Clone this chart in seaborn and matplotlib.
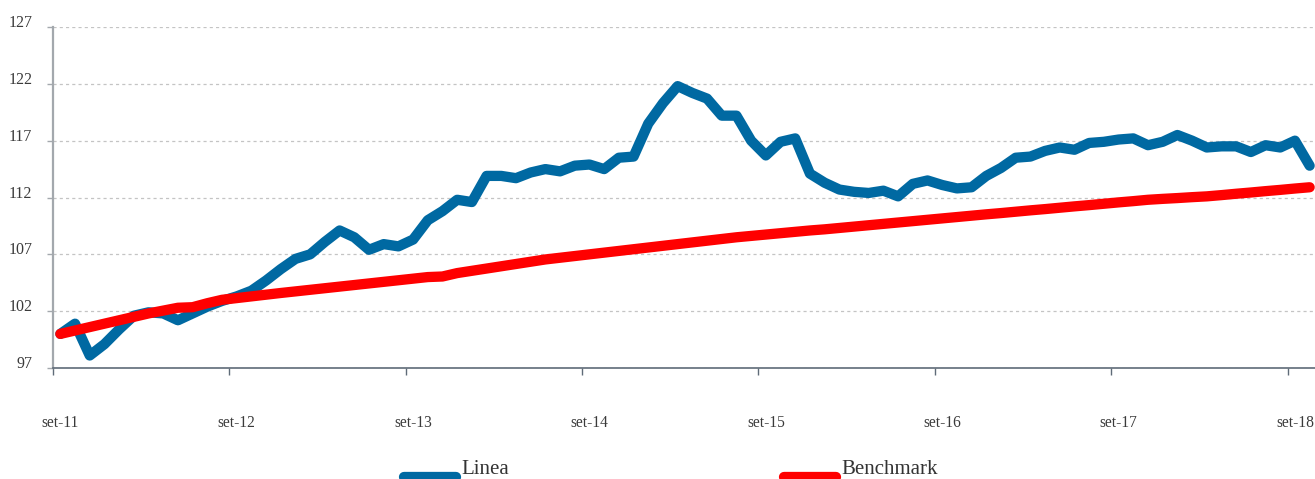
import numpy as np
import pandas as pd
import matplotlib
matplotlib.use("Agg")
import matplotlib.pyplot as plt
import seaborn as sns
from matplotlib.lines import Line2D
from matplotlib.legend_handler import HandlerLine2D

# ---- data (monthly, set-11 .. ott-18) ----
tick_labels = ["set-11", "set-12", "set-13", "set-14", "set-15", "set-16", "set-17", "set-18"]
series_names = ["Linea", "Benchmark"]

linea = [100.0, 100.9, 98.1, 99.1, 100.4, 101.6, 101.9, 101.8, 101.2, 101.8,
         102.4, 102.9, 103.3, 103.8, 104.7, 105.7, 106.6, 107.0, 108.1, 109.1,
         108.5, 107.4, 107.9, 107.7, 108.3, 110.0, 110.8, 111.8, 111.6, 113.9,
         113.9, 113.7, 114.2, 114.5, 114.3, 114.8, 114.9, 114.5, 115.5, 115.6,
         118.5, 120.3, 121.8, 121.2, 120.7, 119.2, 119.2, 117.0, 115.7, 116.9,
         117.2, 114.1, 113.3, 112.7, 112.5, 112.4, 112.6, 112.1, 113.2, 113.5,
         113.1, 112.8, 112.9, 113.9, 114.6, 115.5, 115.6, 116.1, 116.4, 116.2,
         116.8, 116.9, 117.1, 117.2, 116.6, 116.9, 117.5, 117.0, 116.4, 116.5,
         116.5, 116.0, 116.6, 116.4, 117.0, 114.8]

benchmark = [100.0, 100.3, 100.6, 100.9, 101.2, 101.5, 101.8, 102.05, 102.3, 102.35,
             102.7, 103.0, 103.15, 103.3, 103.45, 103.6, 103.74, 103.88, 104.02, 104.16,
             104.3, 104.44, 104.58, 104.72, 104.86, 105.0, 105.05, 105.35, 105.55, 105.75,
             105.95, 106.15, 106.35, 106.55, 106.7, 106.85, 107.0, 107.15, 107.3, 107.45,
             107.6, 107.75, 107.9, 108.05, 108.2, 108.35, 108.5, 108.62, 108.74, 108.86,
             108.98, 109.1, 109.2, 109.32, 109.44, 109.56, 109.68, 109.8, 109.92, 110.04,
             110.16, 110.28, 110.4, 110.52, 110.63, 110.75, 110.87, 110.98, 111.1, 111.22,
             111.33, 111.45, 111.57, 111.68, 111.8, 111.88, 111.95, 112.03, 112.1, 112.21,
             112.33, 112.44, 112.56, 112.67, 112.79, 112.9]

y_ticks = [97, 102, 107, 112, 117, 122, 127]

colors = {"Linea": "#0069a2", "Benchmark": "#ff0000"}

sns.set_theme(style="white")
plt.rcParams['font.family'] = ['Liberation Serif', 'DejaVu Serif']

W, H = 1315, 479
fig = plt.figure(figsize=(W / 100, H / 100), dpi=100)
ax = fig.add_axes([53 / W, 1 - 368 / H, 1264 / W, (368 - 27) / H])

n = len(linea)
df = pd.DataFrame({
    "t": list(range(n)) * 2,
    "value": linea + benchmark,
    "serie": [series_names[0]] * n + [series_names[1]] * n,
})

sns.lineplot(data=df, x="t", y="value", hue="serie", hue_order=series_names,
             palette=colors, linewidth=7.4, legend=False, ax=ax,
             solid_capstyle="round", solid_joinstyle="round")

ax.set_xlim(-0.5, n - 0.5)
ax.set_ylim(97, 127)
ax.set_xlabel("")
ax.set_ylabel("")

# y axis
ax.set_yticks(y_ticks)
ax.set_yticklabels([str(v) for v in y_ticks])
ax.tick_params(axis="y", left=True, length=4, width=1, color="#a3a8ad",
               pad=11, labelsize=11.5, labelcolor="#3a3a3a")
for lab in ax.get_yticklabels():
    lab.set_va("baseline")

# x axis: tick marks at year boundaries, labels at the september points
ax.set_xticks([-0.5 + 12 * k for k in range(len(tick_labels))])
ax.set_xticklabels([""] * len(tick_labels))
ax.set_xticks([12 * k for k in range(len(tick_labels))], minor=True)
ax.set_xticklabels(tick_labels, minor=True)
ax.tick_params(axis="x", which="major", bottom=True, length=5, width=1,
               color="#5f6b78", direction="out")
ax.tick_params(axis="x", which="minor", bottom=True, length=0, pad=34,
               labelsize=11.2, labelcolor="#3a3a3a")

# grid & spines
ax.set_axisbelow(True)
ax.yaxis.grid(True, linestyle=(0, (2.5, 2.5)), color="#c4c4c4", linewidth=0.9)
ax.xaxis.grid(False)
for s in ["top", "right"]:
    ax.spines[s].set_visible(False)
ax.spines["left"].set_color("#a3a8ad")
ax.spines["left"].set_linewidth(1.6)
ax.spines["bottom"].set_color("#5f6b78")
ax.spines["bottom"].set_linewidth(1.2)


# legend: handle sits lower than the label, as in the reference
class LowHandle(HandlerLine2D):
    def create_artists(self, legend, orig_handle, xdescent, ydescent,
                       width, height, fontsize, trans):
        arts = super().create_artists(legend, orig_handle, xdescent, ydescent,
                                      width, height, fontsize, trans)
        for a in arts:
            a.set_ydata([y - 7.5 for y in a.get_ydata()])
        return arts


handles = [Line2D([], [], color=colors[s], lw=7.4, solid_capstyle="round")
           for s in series_names]
fig.legend(handles=handles, labels=series_names, ncol=2, loc="lower left",
           bbox_to_anchor=(404 / W, 0.0), frameon=False, fontsize=15,
           handlelength=2.5, handletextpad=0.25, columnspacing=13.2,
           borderpad=0, borderaxespad=0, labelcolor="#333333",
           handler_map={Line2D: LowHandle()})

fig.savefig("out.png", dpi=100)
